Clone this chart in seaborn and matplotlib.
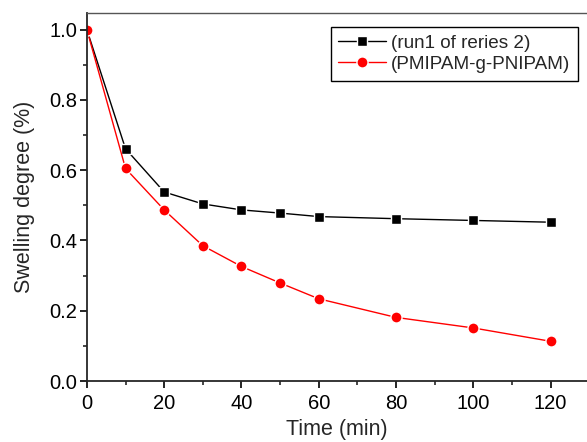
import numpy as np
import pandas as pd
import seaborn as sb
import matplotlib.pyplot as plt
from matplotlib.ticker import MultipleLocator

time_min = [0, 10, 20, 30, 40, 50, 60, 80, 100, 120]
run1_series2 = [1.0, 0.661, 0.538, 0.504, 0.487, 0.478, 0.468, 0.462, 0.457, 0.452]
pmipam_g_pnipam = [1.0, 0.605, 0.487, 0.385, 0.326, 0.279, 0.234, 0.181, 0.151, 0.113]
labels = ['(run1 of reries 2)', '(PMIPAM-g-PNIPAM)']

sb.set_style('ticks')
plt.rcParams['font.family'] = ['Liberation Sans', 'DejaVu Sans']

fig = plt.figure(figsize=(5.87, 4.42), dpi=100)
ax = fig.add_axes([0.148, 0.138, 0.852, 0.833])

sb.lineplot(x=time_min, y=run1_series2, ax=ax, color='black', marker='s',
            markersize=7, markeredgecolor='white', markeredgewidth=1.0,
            linewidth=1.0, label=labels[0])
sb.lineplot(x=time_min, y=pmipam_g_pnipam, ax=ax, color='red', marker='o',
            markersize=8, markeredgecolor='white', markeredgewidth=1.0,
            linewidth=1.0, label=labels[1])

ax.set_xlim(0, 129.4)
ax.set_ylim(0, 1.048)
ax.xaxis.set_major_locator(MultipleLocator(20))
ax.xaxis.set_minor_locator(MultipleLocator(10))
ax.yaxis.set_major_locator(MultipleLocator(0.2))
ax.yaxis.set_minor_locator(MultipleLocator(0.1))
ax.yaxis.set_major_formatter(plt.FormatStrFormatter('%.1f'))
ax.tick_params(which='major', direction='out', length=5, width=1.2, labelsize=14.5,
               colors='black', pad=2)
ax.tick_params(which='minor', direction='out', length=3, width=1.2)
ax.tick_params(axis='x', which='major', pad=4)
for s in ['left', 'bottom']:
    ax.spines[s].set_linewidth(1.3)
ax.spines['top'].set_linewidth(1.0)
ax.spines['top'].set_color('#555555')
ax.spines['right'].set_visible(False)
ax.set_xlabel('Time (min)', fontsize=15.5, labelpad=5)
ax.set_ylabel('Swelling degree (%)', fontsize=15.5, labelpad=10)

leg = ax.legend(loc='upper right', bbox_to_anchor=(0.982, 0.962), fontsize=13.6,
                frameon=True, fancybox=False, framealpha=1, edgecolor='black',
                handlelength=2.5, borderpad=0.4, labelspacing=0.22, handletextpad=0.3,
                borderaxespad=0)
leg.get_frame().set_linewidth(1.0)

fig.savefig('out.png', dpi=100)
